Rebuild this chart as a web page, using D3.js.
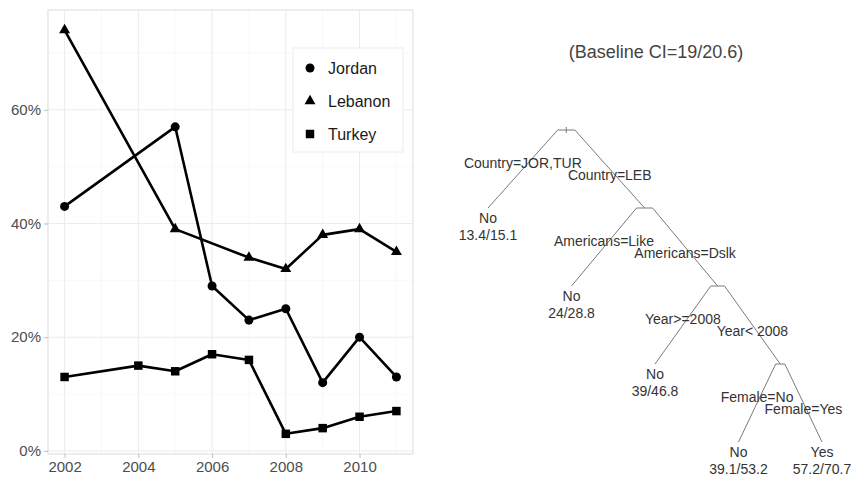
<!DOCTYPE html>
<html>
<head>
<meta charset="utf-8">
<script src="https://cdn.jsdelivr.net/npm/d3@7"></script>
<style>
  body { margin: 0; background: #fff; }
  svg { display: block; font-family: "Liberation Sans", Arial, sans-serif; }
</style>
</head>
<body>
<svg id="chart" width="853" height="478"></svg>
<script>
// line chart data
const jordan = [[2002, 43], [2005, 57], [2006, 29], [2007, 23], [2008, 25], [2009, 12], [2010, 20], [2011, 13]];
const lebanon = [[2002, 74], [2005, 39], [2007, 34], [2008, 32], [2009, 38], [2010, 39], [2011, 35]];
const turkey = [[2002, 13], [2004, 15], [2005, 14], [2006, 17], [2007, 16], [2008, 3], [2009, 4], [2010, 6], [2011, 7]];
const countries = ["Jordan", "Lebanon", "Turkey"];
const xTicks = [2002, 2004, 2006, 2008, 2010];
const yTicks = [0, 20, 40, 60];

// tree data (rpart-style)
const treeTitle = "(Baseline CI=19/20.6)";
const treeNodes = [
  { id: "root", parent: null },
  { id: "n1", parent: "root", split: "Country=JOR,TUR", label: ["No", "13.4/15.1"] },
  { id: "n2", parent: "root", split: "Country=LEB" },
  { id: "n3", parent: "n2", split: "Americans=Like", label: ["No", "24/28.8"] },
  { id: "n4", parent: "n2", split: "Americans=Dslk" },
  { id: "n5", parent: "n4", split: "Year>=2008", label: ["No", "39/46.8"] },
  { id: "n6", parent: "n4", split: "Year< 2008" },
  { id: "n7", parent: "n6", split: "Female=No", label: ["No", "39.1/53.2"] },
  { id: "n8", parent: "n6", split: "Female=Yes", label: ["Yes", "57.2/70.7"] }
];

const svg = d3.select("#chart");

// ---- left panel ----
const m = { left: 48, right: 413, top: 10, bottom: 454 };
const x = d3.scaleLinear().domain([2001.55, 2011.45]).range([m.left, m.right]);
const y = d3.scaleLinear().domain([-0.55, 77.55]).range([m.bottom, m.top]);

const grid = svg.append("g");
grid.selectAll(".minx").data(d3.range(2003, 2012, 2)).join("line")
  .attr("x1", d => x(d)).attr("x2", d => x(d)).attr("y1", m.top).attr("y2", m.bottom)
  .attr("stroke", "#f3f3f3").attr("stroke-width", 0.6);
grid.selectAll(".miny").data([10, 30, 50, 70]).join("line")
  .attr("y1", d => y(d)).attr("y2", d => y(d)).attr("x1", m.left).attr("x2", m.right)
  .attr("stroke", "#f3f3f3").attr("stroke-width", 0.6);
grid.selectAll(".majx").data(xTicks).join("line")
  .attr("x1", d => x(d)).attr("x2", d => x(d)).attr("y1", m.top).attr("y2", m.bottom)
  .attr("stroke", "#ebebeb").attr("stroke-width", 1);
grid.selectAll(".majy").data(yTicks).join("line")
  .attr("y1", d => y(d)).attr("y2", d => y(d)).attr("x1", m.left).attr("x2", m.right)
  .attr("stroke", "#ebebeb").attr("stroke-width", 1);

svg.append("rect")
  .attr("x", m.left).attr("y", m.top)
  .attr("width", m.right - m.left).attr("height", m.bottom - m.top)
  .attr("fill", "none").attr("stroke", "#dcdcdc");

const xAxis = svg.append("g")
  .attr("transform", `translate(0,${m.bottom})`)
  .call(d3.axisBottom(x).tickValues(xTicks).tickFormat(d3.format("d")).tickSize(4).tickPadding(3));
const yAxis = svg.append("g")
  .attr("transform", `translate(${m.left},0)`)
  .call(d3.axisLeft(y).tickValues(yTicks).tickFormat(d => d + "%").tickSize(4).tickPadding(3));
[xAxis, yAxis].forEach(a => {
  a.select(".domain").remove();
  a.selectAll(".tick line").attr("stroke", "#bdbdbd");
  a.selectAll("text").style("fill", "#4d4d4d").style("font-size", "15px")
    .style("font-family", "'Liberation Sans', Arial, sans-serif");
});

const seriesData = [jordan, lebanon, turkey];
const symbols = [d3.symbolCircle, d3.symbolTriangle, d3.symbolSquare];
const symSize = [64, 52, 72];

const line = d3.line().x(d => x(d[0])).y(d => y(d[1]));
seriesData.forEach((s, i) => {
  svg.append("path").datum(s).attr("d", line)
    .attr("fill", "none").attr("stroke", "#000").attr("stroke-width", 2.6)
    .attr("stroke-linejoin", "round");
  svg.append("g").selectAll("path").data(s).join("path")
    .attr("transform", d => `translate(${x(d[0])},${y(d[1])})`)
    .attr("d", d3.symbol(symbols[i], symSize[i]));
});

// legend
const lg = svg.append("g").attr("transform", "translate(293,48)");
lg.append("rect").attr("width", 110).attr("height", 104)
  .attr("fill", "#fff").attr("stroke", "#ececec");
countries.forEach((c, i) => {
  const row = lg.append("g").attr("transform", `translate(0,${20 + i * 33})`);
  row.append("path").attr("transform", "translate(17,0)").attr("d", d3.symbol(symbols[i], symSize[i]));
  row.append("text").attr("x", 35).attr("dy", "0.35em")
    .style("font-size", "16px").style("fill", "#1a1a1a").text(c);
});

// ---- right panel: tree ----
svg.append("text").attr("x", 656).attr("y", 52).attr("dy", "0.35em")
  .attr("text-anchor", "middle").style("font-size", "18px").style("fill", "#444")
  .text(treeTitle);

const root = d3.stratify().id(d => d.id).parentId(d => d.parent)(treeNodes);
const leaves = root.leaves();
const lx = d3.scaleLinear().domain([0, leaves.length - 1]).range([488, 822]);
const ly = d3.scaleLinear().domain([0, 4]).range([130, 442]);
leaves.forEach((l, i) => { l.px = lx(i); });
root.eachAfter(n => {
  if (n.children) n.px = (n.children[0].px + n.children[1].px) / 2;
  n.py = ly(n.depth);
});
const branch = 0.11;
const tree = svg.append("g");
root.descendants().filter(n => n.parent).forEach(n => {
  const p = n.parent;
  const hx = p.px + branch * (n.px - p.px);
  tree.append("path")
    .attr("d", `M${p.px},${p.py}L${hx},${p.py}L${n.px},${n.py}`)
    .attr("fill", "none").attr("stroke", "#7a7a7a").attr("stroke-width", 1);
  const left = n === p.children[0];
  const mx = (hx + n.px) / 2, my = (p.py + n.py) / 2;
  tree.append("text").attr("x", mx).attr("y", my + (left ? -6 : 6)).attr("dy", "0.35em")
    .attr("text-anchor", "middle").style("font-size", "14px").style("fill", "#333")
    .text(n.data.split);
  if (n.data.label) {
    n.data.label.forEach((t, k) => {
      tree.append("text").attr("x", n.px).attr("y", n.py + 10 + k * 17).attr("dy", "0.35em")
        .attr("text-anchor", "middle").style("font-size", "14px").style("fill", "#333").text(t);
    });
  }
});
tree.append("line").attr("x1", root.px).attr("x2", root.px)
  .attr("y1", root.py - 3).attr("y2", root.py + 3).attr("stroke", "#7a7a7a");
</script>
</body>
</html>
